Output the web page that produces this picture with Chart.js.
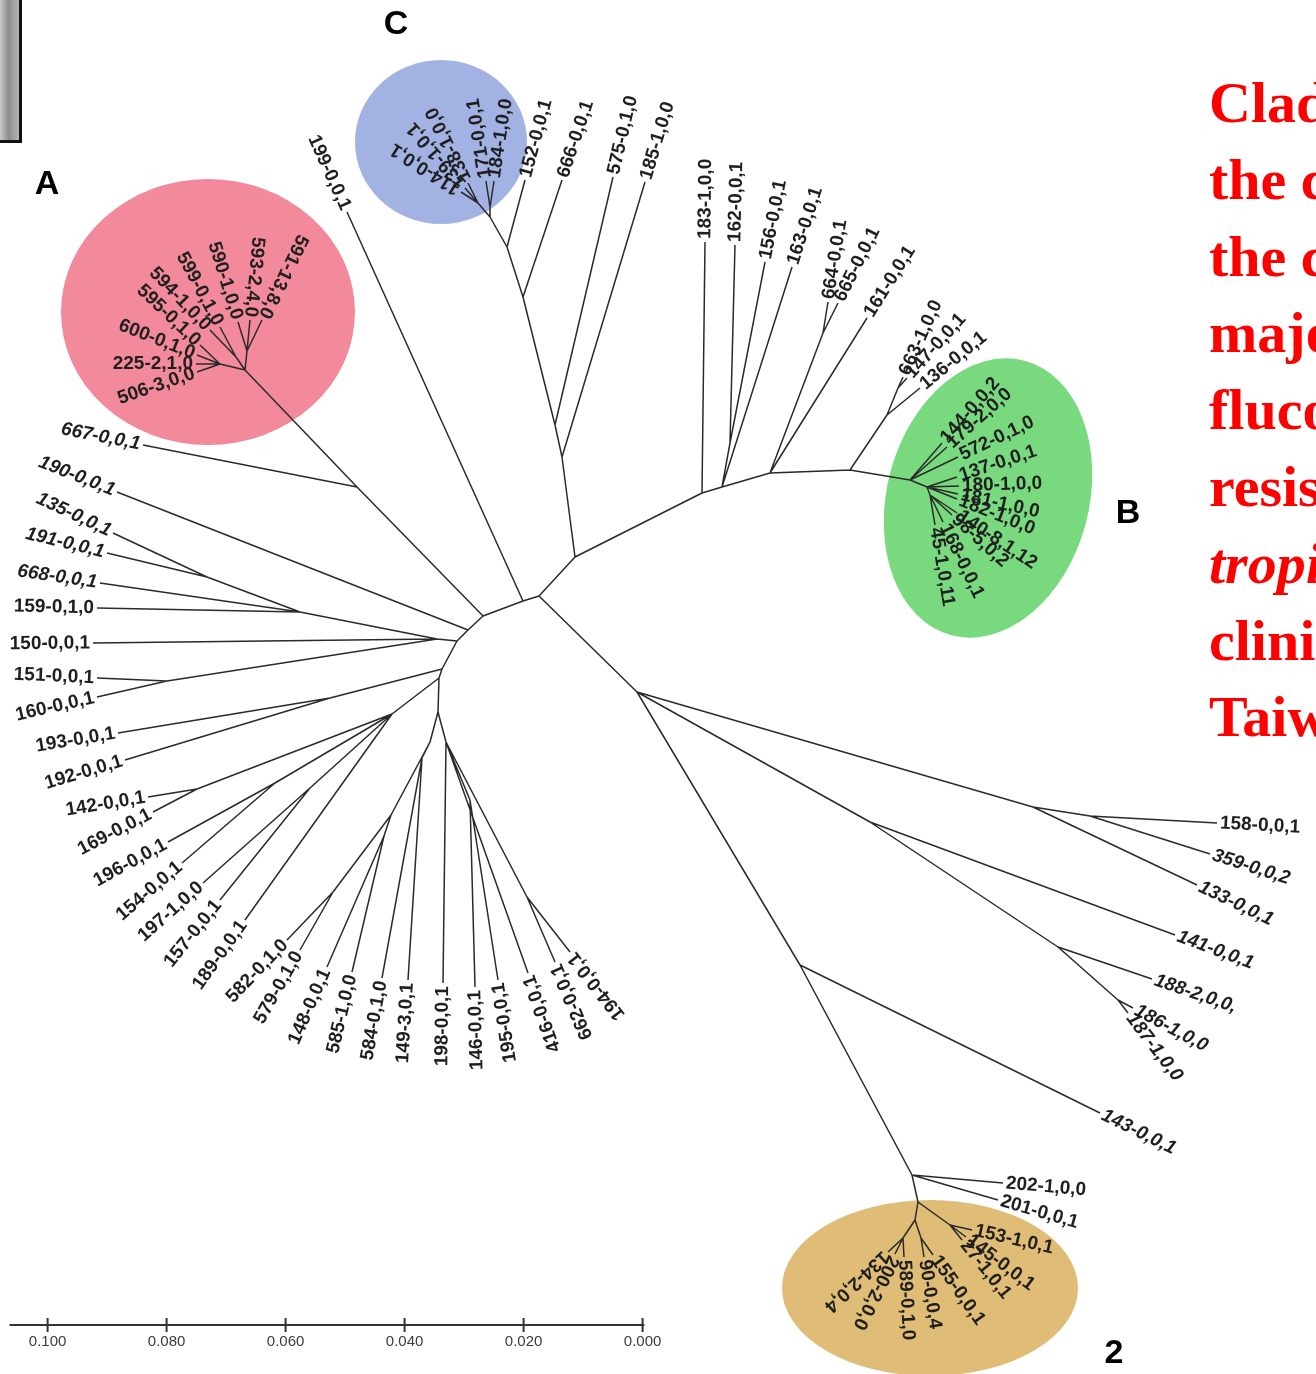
<!DOCTYPE html>
<html>
<head>
<meta charset="utf-8">
<title>Unrooted tree of C. tropicalis isolates</title>
<script src="https://cdn.jsdelivr.net/npm/chart.js@4.4.1/dist/chart.umd.min.js"></script>
<style>
  html, body { margin: 0; padding: 0; background: #fff; }
  body { width: 1316px; height: 1374px; overflow: hidden; position: relative; }
  #wrap { position: absolute; left: 0; top: 0; width: 1316px; height: 1374px; }
  #corner { position: absolute; left: 0; top: 0; width: 19px; height: 140px;
    background: linear-gradient(90deg, #c9c9c9 0%, #8d8d8d 45%, #b5b5b5 100%);
    border-right: 3px solid #111; border-bottom: 3px solid #111; }
  #note { position: absolute; left: 1209px; top: 65px; color: #ff0000; white-space: nowrap;
    font: bold 58px/76.8px "Liberation Serif", "Times New Roman", serif; }
</style>
</head>
<body>
<div id="wrap"><canvas id="tree"></canvas></div>
<div id="corner"></div>
<div id="note">Clades of<br>the clones<br>the clonal<br>major<br>fluconazole<br>resistant C.<br><i>tropicalis</i><br>clinical<br>Taiwan</div>
<script>
// tree nodes: id (leaves carry the isolate name), parent id, layout x / y
const nodeIds = [
  'p1', 'p2', 't1', 'r1',
  // clade A side
  '199-0,0,1', 'l1', 'a1', '667-0,0,1', 'aR', 'aU', '591-13,8,0', '593-2,4,0', '590-1,0,0',
  'aU2', '599-0,1,0', '594-1,0,0', 'aL', '595-0,1,0', '600-0,1,0', '225-2,1,0', '506-3,0,0',
  // left fan
  'l2', '190-0,0,1', 'l3', 'x1', 'ju', 'j135', '135-0,0,1', '191-0,0,1', '668-0,0,1',
  '159-0,1,0', '150-0,0,1', 'j160', '151-0,0,1', '160-0,0,1', 'l4', 'j193', '193-0,0,1', '192-0,0,1',
  // lower left fan
  'l5', 'm1', 'j142', '142-0,0,1', '169-0,0,1', 'j196', '196-0,0,1', '154-0,0,1',
  'j197', '197-1,0,0', '157-0,0,1', '189-0,0,1',
  // bottom fan
  'l7', 'q1', 'qa', 'j582', '582-0,1,0', '579-0,1,0', 'qb', '148-0,0,1', '585-1,0,0',
  'q1b', '584-0,1,0', '149-3,0,1', 'q2', '198-0,0,1', 'j146', '146-0,0,1', '195-0,0,1',
  '416-0,0,1', 'j662', '662-0,0,1', '194-0,0,1',
  // clade C and top
  'nb', '185-1,0,0', 'na', '575-0,1,0', 'nc', '666-0,0,1', 'nd', '152-0,0,1',
  'c0', 'ca', '114-0,0,1', '139-1,0,1', '138-1,0,0', 'cb', '171-0,0,1', '184-1,0,0',
  // stem towards clade B
  'bn1', '183-1,0,0', 'bn2', 'j156', '162-0,0,1', '156-0,0,1', '163-0,0,1', 'bn3', 'j664',
  '664-0,0,1', '665-0,0,1', '161-0,0,1', 'bn4', 'j136', 'j663', '663-1,0,0', '147-0,0,1', '136-0,0,1',
  // clade B
  'b0', '144-0,0,2', '179-2,0,0', '572-0,1,0', 'bl', '137-0,0,1', '180-1,0,0',
  '181-1,0,0', '182-1,0,0', 'bl2', '140-8,1,12', '98-5,0,2', '168-0,0,1', '45-1,0,11',
  // right fan
  'ra', '133-0,0,1', 'rc', '158-0,0,1', '359-0,0,2', 'rb',
  '141-0,0,1', 'r3', '188-2,0,0,', 'j186', '186-1,0,0', '187-1,0,0',
  // clade 2
  's1', '143-0,0,1', 's2', '202-1,0,0', '201-0,0,1', 's3', 's4', 's6', '134-2,0,4',
  '200-2,0,0', '589-0,1,0', 's7', '90-0,0,4', '155-0,0,1', 's5', '153-1,0,1', '145-0,0,1', '27-1,0,1'
];
const nodeParents = [
  null, 'p1', 'p1', 'p1',
  'p2', 'p2', 'l1', 'a1', 'a1', 'aR', 'aU', 'aU', 'aU',
  'aR', 'aU2', 'aU2', 'aR', 'aL', 'aL', 'aL', 'aL',
  'l1', 'l2', 'l2', 'l3', 'x1', 'ju', 'j135', 'j135', 'ju',
  'ju', 'x1', 'x1', 'j160', 'j160', 'l3', 'l4', 'j193', 'j193',
  'l4', 'l5', 'm1', 'j142', 'j142', 'm1', 'j196', 'j196',
  'm1', 'j197', 'j197', 'm1',
  'l5', 'l7', 'q1', 'qa', 'j582', 'j582', 'qa', 'qb', 'qb',
  'q1', 'q1b', 'q1b', 'l7', 'q2', 'q2', 'j146', 'j146',
  'q2', 'q2', 'j662', 'j662',
  't1', 'nb', 'nb', 'na', 'na', 'nc', 'nc', 'nd',
  'nd', 'c0', 'ca', 'ca', 'ca', 'c0', 'cb', 'cb',
  't1', 'bn1', 'bn1', 'bn2', 'j156', 'j156', 'bn2', 'bn2', 'bn3',
  'j664', 'j664', 'bn3', 'bn3', 'bn4', 'j136', 'j663', 'j663', 'j136',
  'bn4', 'b0', 'b0', 'b0', 'b0', 'bl', 'bl',
  'bl', 'bl', 'bl', 'bl2', 'bl2', 'bl2', 'bl2',
  'r1', 'ra', 'ra', 'rc', 'rc', 'r1',
  'rb', 'rb', 'r3', 'r3', 'j186', 'j186',
  'r1', 's1', 's1', 's2', 's2', 's2', 's3', 's4', 's6',
  's6', 's6', 's4', 's7', 's7', 's3', 's5', 's5', 's5'
];
const nodeX = [
  539, 523, 575, 637,
  347, 483, 357, 143, 245, 247, 262, 250, 238,
  236, 220, 210, 220, 200, 197, 196, 197,
  468, 117, 457, 437, 300, 207, 113, 107, 100,
  97, 93, 167, 97, 97, 442, 330, 118, 125,
  439, 392, 197, 148, 153, 275, 168, 182,
  310, 203, 220, 245,
  438, 430, 391, 333, 287, 300, 384, 327, 352,
  422, 382, 408, 446, 443, 470, 475, 498,
  528, 527, 555, 570,
  562, 645, 555, 613, 523, 562, 507, 525,
  490, 478, 461, 465, 468, 490, 486, 494,
  702, 705, 722, 730, 735, 765, 792, 770, 823,
  828, 838, 867, 850, 887, 898, 903, 907, 920,
  910, 942, 947, 958, 927, 957, 959,
  958, 957, 930, 957, 952, 943, 935,
  1033, 1197, 1090, 1217, 1210, 870,
  1175, 1058, 1152, 1118, 1133, 1128,
  800, 1100, 912, 1003, 998, 918, 915, 903, 888,
  895, 904, 921, 924, 933, 950, 972, 966, 962
];
const nodeY = [
  596, 601, 557, 692,
  212, 616, 487, 445, 370, 351, 320, 320, 322,
  357, 327, 330, 364, 345, 355, 364, 372,
  630, 492, 641, 639, 612, 577, 533, 553, 583,
  608, 643, 681, 678, 697, 669, 698, 733, 760,
  678, 714, 789, 797, 812, 783, 842, 863,
  788, 883, 900, 920,
  712, 742, 815, 892, 940, 950, 836, 967, 972,
  758, 978, 980, 742, 983, 800, 987, 980,
  973, 897, 962, 952,
  457, 182, 425, 177, 297, 180, 247, 180,
  217, 203, 192, 188, 183, 207, 181, 181,
  493, 242, 487, 443, 245, 262, 267, 473, 333,
  302, 303, 318, 470, 415, 388, 377, 378, 388,
  480, 443, 447, 457, 487, 477, 486,
  494, 499, 495, 513, 515, 522, 525,
  807, 885, 816, 823, 854, 822,
  935, 947, 979, 1000, 1008, 1013,
  965, 1113, 1175, 1183, 1200, 1202, 1220, 1238, 1252,
  1254, 1257, 1238, 1257, 1255, 1225, 1230, 1237, 1240
];

// scale bar, substitutions per site
const distTicks = [0.1, 0.08, 0.06, 0.04, 0.02, 0];
const distBar = [0.1064, -0.0003];

// highlighted clades
const cladeNames = ['A', 'B', 'C', '2'];

// ---- look ----
const cladeShapes = {
  A: { cx: 208, cy: 312, rx: 147, ry: 133, tilt: 0, color: '#f38a9b', lx: 47, ly: 185 },
  B: { cx: 988, cy: 498, rx: 101, ry: 142, tilt: 15, color: '#79d97f', lx: 1128, ly: 514 },
  C: { cx: 441, cy: 142, rx: 86, ry: 82, tilt: 0, color: '#a2b2e3', lx: 396, ly: 25 },
  '2': { cx: 930, cy: 1288, rx: 148, ry: 88, tilt: 0, color: '#e0bd76', lx: 1114, ly: 1354 }
};
const italicLabels = new Set(['667-0,0,1', '190-0,0,1', '135-0,0,1', '191-0,0,1', '668-0,0,1',
  '359-0,0,2', '133-0,0,1', '141-0,0,1', '188-2,0,0,', '186-1,0,0', '187-1,0,0', '143-0,0,1']);
const barY = 1325;
const labelGap = 3;
const labelFont = '"Liberation Sans", Arial, sans-serif';

if (nodeParents.length !== nodeIds.length || nodeX.length !== nodeIds.length || nodeY.length !== nodeIds.length) {
  console.warn('node arrays differ in length', nodeIds.length, nodeParents.length, nodeX.length, nodeY.length);
}

const idx = {};
nodeIds.forEach((id, i) => { idx[id] = i; });
const hasChild = new Set(nodeParents);
const leaves = nodeIds.map((id, i) => i).filter(i => !hasChild.has(nodeIds[i]));

// labels on the left half of the tree (everything below p2) are written towards the tip
function below(i, anc) {
  while (i !== undefined) {
    if (nodeIds[i] === anc) return true;
    i = idx[nodeParents[i]];
  }
  return false;
}

const edgePoints = [];
nodeIds.forEach((id, i) => {
  const p = idx[nodeParents[i]];
  if (p === undefined) return;
  edgePoints.push({ x: nodeX[p], y: nodeY[p] }, { x: nodeX[i], y: nodeY[i] }, { x: null, y: null });
});

const treeDecor = {
  id: 'treeDecor',
  beforeDatasetsDraw(chart) {
    const { ctx, scales: { x, y } } = chart;
    cladeNames.forEach(name => {
      const s = cladeShapes[name];
      const cx = x.getPixelForValue(s.cx), cy = y.getPixelForValue(s.cy);
      const rx = Math.abs(x.getPixelForValue(s.cx + s.rx) - cx);
      const ry = Math.abs(y.getPixelForValue(s.cy + s.ry) - cy);
      ctx.save();
      ctx.fillStyle = s.color;
      ctx.beginPath();
      ctx.ellipse(cx, cy, rx, ry, s.tilt * Math.PI / 180, 0, Math.PI * 2);
      ctx.fill();
      ctx.restore();
    });
  },
  afterDatasetsDraw(chart) {
    const { ctx, scales: { x, y } } = chart;
    ctx.save();
    ctx.fillStyle = '#1f1f1f';
    ctx.textBaseline = 'middle';
    leaves.forEach(i => {
      const p = idx[nodeParents[i]];
      const tx = x.getPixelForValue(nodeX[i]), ty = y.getPixelForValue(nodeY[i]);
      const ang = Math.atan2(ty - y.getPixelForValue(nodeY[p]), tx - x.getPixelForValue(nodeX[p]));
      const flip = below(i, 'p2');
      ctx.save();
      ctx.translate(tx, ty);
      ctx.rotate(flip ? ang + Math.PI : ang);
      ctx.textAlign = flip ? 'right' : 'left';
      ctx.font = (italicLabels.has(nodeIds[i]) ? 'italic ' : '') + 'bold 19px ' + labelFont;
      ctx.fillText(nodeIds[i], flip ? -labelGap : labelGap, 0);
      ctx.restore();
    });
    ctx.fillStyle = '#000';
    ctx.textAlign = 'center';
    ctx.font = 'bold 34px ' + labelFont;
    cladeNames.forEach(name => {
      const s = cladeShapes[name];
      ctx.fillText(name, x.getPixelForValue(s.lx), y.getPixelForValue(s.ly));
    });
    ctx.restore();
  }
};

new Chart(document.getElementById('tree'), {
  type: 'scatter',
  data: {
    datasets: [
      {
        data: edgePoints,
        showLine: true,
        spanGaps: false,
        borderColor: '#2a2a2a',
        borderWidth: 1.5,
        pointRadius: 0,
        pointHitRadius: 0
      },
      {
        data: distBar.map(v => ({ x: v, y: barY })),
        xAxisID: 'dist',
        showLine: true,
        borderColor: '#333',
        borderWidth: 2.2,
        pointRadius: 0
      },
      {
        data: distTicks.map(v => ({ x: v, y: barY })),
        xAxisID: 'dist',
        showLine: false,
        pointStyle: 'line',
        rotation: 90,
        pointRadius: 7,
        pointBorderWidth: 2,
        pointBorderColor: '#333'
      }
    ]
  },
  options: {
    responsive: true,
    maintainAspectRatio: false,
    animation: false,
    layout: { padding: 0, autoPadding: false },
    scales: {
      x: { type: 'linear', min: 0, max: 1316, display: false },
      y: { type: 'linear', min: 0, max: 1374, reverse: true, display: false },
      dist: {
        type: 'linear',
        axis: 'x',
        reverse: true,
        min: -0.11318,
        max: 0.108,
        position: { y: barY },
        grid: { display: false, drawTicks: false },
        border: { display: false },
        afterBuildTicks: s => { s.ticks = distTicks.map(v => ({ value: v })); },
        ticks: {
          autoSkip: false,
          maxRotation: 0,
          padding: 8,
          color: '#3c3c3c',
          font: { family: 'Liberation Sans', size: 15 },
          callback: v => v.toFixed(3)
        }
      }
    },
    plugins: {
      legend: { display: false },
      tooltip: { enabled: false }
    }
  },
  plugins: [treeDecor]
});
</script>
</body>
</html>
